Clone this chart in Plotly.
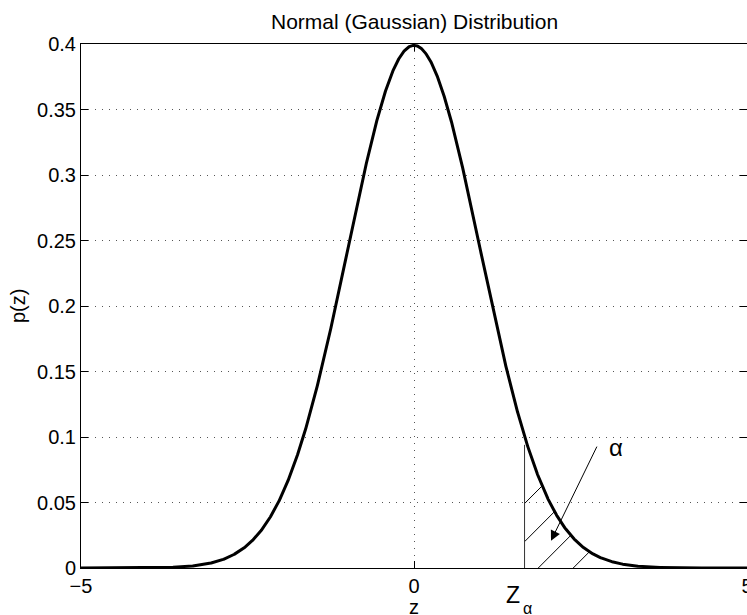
import numpy as np
import plotly.graph_objects as go

# ---- data ----
MU = 0.0
SIGMA = 1.0
z = np.linspace(-5, 5, 2001)
pz = np.exp(-0.5 * ((z - MU) / SIGMA) ** 2) / (SIGMA * np.sqrt(2 * np.pi))

x_ticks = [-5, 0, 5]
x_ticktext = ["\u22125", "0", "5"]
y_ticks = [0, 0.05, 0.1, 0.15, 0.2, 0.25, 0.3, 0.35, 0.4]
y_ticktext = ["0", "0.05", "0.1", "0.15", "0.2", "0.25", "0.3", "0.35", "0.4"]

z_alpha = 1.66
z_alpha_top = 0.094
hatch_intercepts = [0.695, 1.266, 1.866, 2.391]   # z where each hatch line meets p=0
hatch_slope = 0.051

arrow_tail = (2.757, 0.0938)
arrow_head = (2.057, 0.0208)
alpha_label_pos = (3.03, 0.0919)

FONT = "Liberation Sans, Arial, sans-serif"

# hatch segments, clipped to region z>=z_alpha, 0<=p<=pdf
hx, hy = [], []
for b in hatch_intercepts:
    x0 = max(b, z_alpha)
    y0 = hatch_slope * (x0 - b)
    mask = (z >= x0) & (hatch_slope * (z - b) >= pz)
    x1 = z[mask][0]
    y1 = hatch_slope * (x1 - b)
    hx += [x0, x1, None]
    hy += [y0, y1, None]

fig = go.Figure()
fig.add_trace(go.Scatter(x=hx, y=hy, mode="lines",
                         line=dict(color="black", width=1), hoverinfo="skip"))
fig.add_trace(go.Scatter(x=[z_alpha, z_alpha], y=[0, z_alpha_top], mode="lines",
                         line=dict(color="#333", width=1), hoverinfo="skip"))
fig.add_trace(go.Scatter(x=z, y=pz, mode="lines",
                         line=dict(color="black", width=3)))

W, H = 747, 615
L, R, T, B = 81, 0, 44, 47
pw, ph = W - L - R, H - T - B


def px(xp):
    return (xp - L) / pw


def py(yp):
    return (H - B - yp) / ph


annotations = [
    dict(text="Normal (Gaussian) Distribution", xref="paper", yref="paper",
         x=0.5, y=py(21), xanchor="center", yanchor="middle", showarrow=False,
         font=dict(family=FONT, size=21, color="black")),
    dict(text="p(z)", xref="paper", yref="paper", x=px(18), y=0.5, textangle=-90,
         xanchor="center", yanchor="middle", showarrow=False,
         font=dict(family=FONT, size=20, color="black")),
    dict(text="z", xref="paper", yref="paper", x=0.5, y=py(607),
         xanchor="center", yanchor="middle", showarrow=False,
         font=dict(family=FONT, size=20, color="black")),
    dict(text="Z", xref="paper", yref="paper", x=px(512.5), y=py(595),
         xanchor="center", yanchor="middle", showarrow=False,
         font=dict(family=FONT, size=23, color="black")),
    dict(text="\u03b1", xref="paper", yref="paper", x=px(527), y=py(608),
         xanchor="center", yanchor="middle", showarrow=False,
         font=dict(family=FONT, size=16, color="black")),
    dict(text="\u03b1", x=alpha_label_pos[0], y=alpha_label_pos[1], xref="x", yref="y",
         xanchor="center", yanchor="middle", showarrow=False,
         font=dict(family=FONT, size=24, color="black")),
    dict(text="", x=arrow_head[0], y=arrow_head[1], ax=arrow_tail[0], ay=arrow_tail[1],
         xref="x", yref="y", axref="x", ayref="y", showarrow=True,
         arrowhead=2, arrowsize=2, arrowwidth=1, arrowcolor="black", standoff=0),
]

axis_common = dict(
    showline=True, linecolor="black", linewidth=1, mirror="ticks",
    ticks="inside", ticklen=7, tickwidth=1, tickcolor="black",
    showgrid=True, gridcolor="#555", gridwidth=1, griddash="1px,6px",
    zeroline=False, automargin=False, ticklabeloverflow="allow",
    tickfont=dict(family=FONT, size=20, color="black"),
)

fig.update_layout(
    width=W, height=H,
    margin=dict(l=L, r=R, t=T, b=B, pad=0),
    paper_bgcolor="white", plot_bgcolor="white",
    showlegend=False,
    xaxis=dict(range=[-5, 5], tickvals=x_ticks, ticktext=x_ticktext, **axis_common),
    yaxis=dict(range=[0, 0.4], tickvals=y_ticks, ticktext=y_ticktext, **axis_common),
    annotations=annotations,
)

fig.write_html("out.html")
